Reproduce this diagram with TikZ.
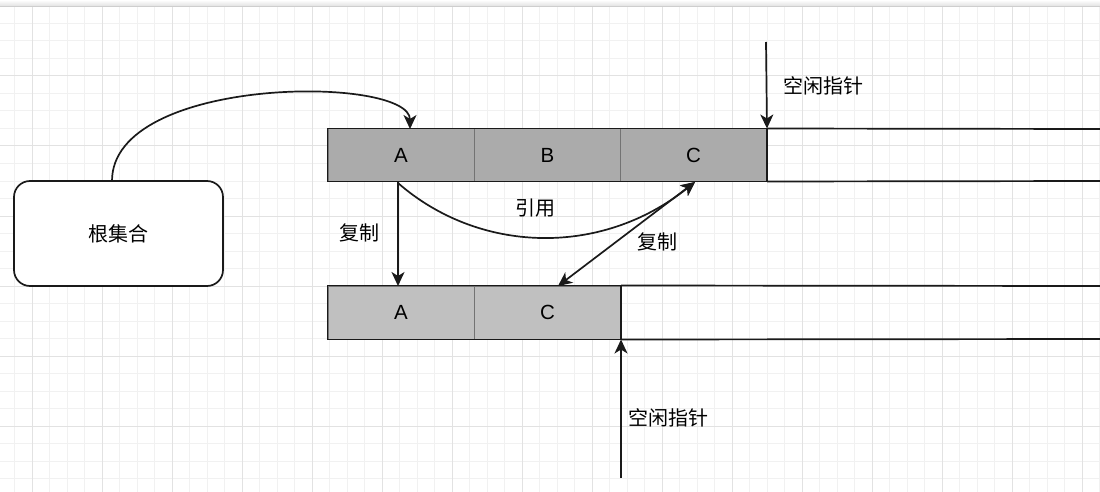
\documentclass[tikz,border=0pt]{standalone}
\usepackage{fontspec}
\setmainfont{Liberation Sans}
\newfontfamily\cjk{Noto Sans CJK SC}
\usetikzlibrary{arrows.meta}
\definecolor{gridminor}{HTML}{F1F1F1}
\definecolor{gridmajor}{HTML}{E2E2E2}
\definecolor{cellTop}{HTML}{ABABAB}
\definecolor{cellBot}{HTML}{C0C0C0}
\definecolor{cellEdge}{HTML}{737373}
\definecolor{ink}{HTML}{1A1A1A}
\tikzset{
  cell/.style={draw=cellEdge, line width=1pt, inner sep=0pt, minimum width=146pt, font=\fontsize{20.5}{21}\selectfont},
  topcell/.style={cell, fill=cellTop, minimum height=52pt},
  botcell/.style={cell, fill=cellBot, minimum height=53pt},
  edge/.style={draw=ink, line width=1.7pt},
  arr/.style={edge, -{Stealth[length=14pt, width=13pt, inset=4pt]}},
  darr/.style={edge, {Stealth[length=14pt, width=13pt, inset=4pt]}-{Stealth[length=14pt, width=13pt, inset=4pt]}},
  lbl/.style={inner sep=0pt, font=\cjk\fontsize{20}{20}\selectfont},
  rootbox/.style={draw=ink, line width=1.7pt, rounded corners=16pt, fill=white, minimum width=209pt, minimum height=105pt, inner sep=0pt, font=\cjk\fontsize{20}{20}\selectfont}
}
\begin{document}
\begin{tikzpicture}[x=1pt,y=-1pt]
\useasboundingbox (0,0) rectangle (1100,492);
\fill[white] (0,0) rectangle (1100,492);
% grid
\foreach \k in {0,...,63} {
  \pgfmathsetmacro{\xx}{-3+17.5*\k}
  \draw[gridminor, line width=1pt] (\xx,6) -- (\xx,492);
}
\foreach \k in {0,...,28} {
  \pgfmathsetmacro{\yy}{6+17.5*\k}
  \draw[gridminor, line width=1pt] (0,\yy) -- (1100,\yy);
}
\foreach \k in {0,...,15} {
  \pgfmathsetmacro{\xx}{32+70*\k}
  \draw[gridmajor, line width=1pt] (\xx,6) -- (\xx,492);
}
\foreach \k in {0,...,6} {
  \pgfmathsetmacro{\yy}{6+70*\k}
  \draw[gridmajor, line width=1pt] (0,\yy) -- (1100,\yy);
}
\shade[top color=white, bottom color=gridmajor] (0,0) rectangle (1100,6);
\draw[gridmajor!80!gray, line width=0.8pt] (0,6) -- (1100,6);

% root set
\node[rootbox] (root) at (118.5,233.5) {根集合};

% top row
\node[topcell] (tA) at (401,155) {A};
\node[topcell] (tB) at (547.5,155) {B};
\node[topcell] (tC) at (693.5,155) {C};
\draw[edge] (tA.south west) rectangle (tC.north east);
\draw[edge] (tC.north east) -- (1100,129);
\draw[edge] (tC.south east) -- (1100,181);

% bottom row
\node[botcell] (bA) at (401,312.5) {A};
\node[botcell] (bC) at (547.5,312.5) {C};
\draw[edge] (bA.south west) rectangle (bC.north east);
\draw[edge] (bC.north east) -- (1100,286);
\draw[edge] (bC.south east) -- (1100,339);

% connectors
\coordinate (rootTop) at (112,181);
\coordinate (aTop) at (410,129);
\draw[arr] (rootTop) .. controls (112,75) and (410,75) .. (aTop);

\coordinate (aBot) at (398,181);
\draw[arr] (aBot) -- (398,286) coordinate (baTop);

\coordinate (cBot) at (695,182);
\draw[arr] (398,183) .. controls (478,253) and (600,258) .. (cBot);

\coordinate (bcTop) at (558,286);
\draw[darr] (bcTop) -- (cBot);

% free pointers
\coordinate (fp1) at (766,42);
\draw[arr] (fp1) -- (tC.north east);
\coordinate (fp2) at (621,478);
\draw[arr] (fp2) -- (bC.south east);

% labels
\node[lbl] at (359,233) {复制};
\node[lbl] at (535,208) {引用};
\node[lbl] at (657,242) {复制};
\node[lbl] at (823,86) {空闲指针};
\node[lbl] at (668,418) {空闲指针};
\end{tikzpicture}
\end{document}
